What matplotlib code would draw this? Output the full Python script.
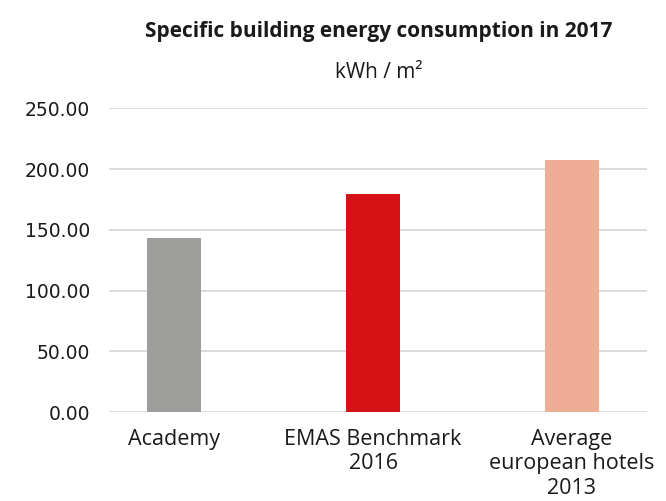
import numpy as np
import matplotlib.pyplot as plt

categories = ['Academy', 'EMAS Benchmark\n2016', 'Average\neuropean hotels\n2013']
values = [143.2, 179.4, 207.4]
colors = ['#9d9d9c', '#d51317', '#efad96']
yticks = [0, 50, 100, 150, 200, 250]

plt.rcParams['font.family'] = ['Open Sans', 'DejaVu Sans']

fig = plt.figure(figsize=(6.66, 5.01), dpi=100)
ax = fig.add_axes([109 / 666, 1 - 412 / 501, 538 / 666, (412 - 108.3) / 501])

x = np.arange(len(categories))
ax.bar(x, values, width=0.27, color=colors, zorder=3)

ax.set_xlim(-0.327, 2.377)
ax.set_ylim(0, 250)
ax.set_yticks(yticks)
ax.set_yticklabels([f'{v:.2f}' for v in yticks], fontsize=13.5, color='#1a1a1a',
                   family='DejaVu Sans')
ax.set_xticks(x)
ax.set_xticklabels(categories, fontsize=15.5, color='#1a1a1a', linespacing=1.22)
ax.tick_params(axis='both', length=0)
ax.tick_params(axis='y', pad=13.5)
ax.tick_params(axis='x', pad=12)

ax.yaxis.grid(True, color='#d9d9d9', linewidth=1.3, zorder=0)
for s in ax.spines.values():
    s.set_visible(False)

fig.text(379 / 666, 1 - 31 / 501, 'Specific building energy consumption in 2017',
         ha='center', va='center', fontsize=15, fontweight='bold', color='#1a1a1a')
fig.text(379 / 666, 1 - 73 / 501, 'kWh / m²', ha='center', va='center',
         fontsize=15, color='#1a1a1a')

fig.savefig('out.png', dpi=100)
